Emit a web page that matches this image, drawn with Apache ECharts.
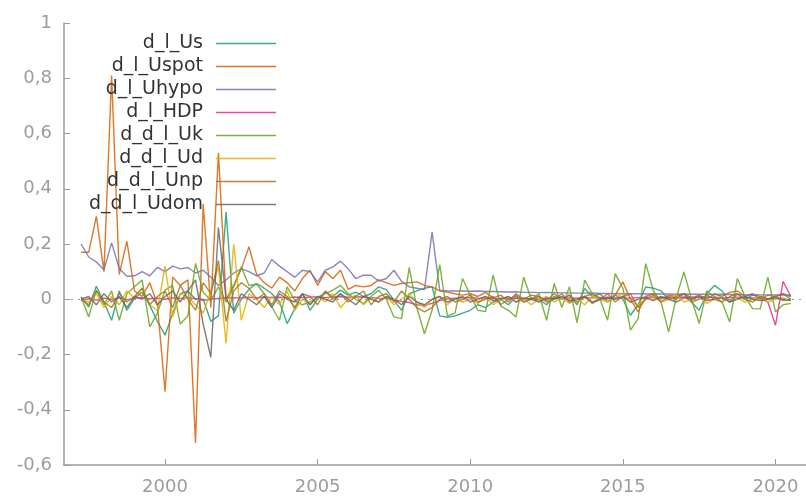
<!DOCTYPE html>
<html>
<head>
<meta charset="utf-8">
<script src="https://cdn.jsdelivr.net/npm/echarts@6/dist/echarts.min.js"></script>
<style>
  html, body { margin: 0; padding: 0; background: #fff; }
  #main { width: 806px; height: 497px; }
</style>
</head>
<body>
<div id="main"></div>
<script>
// quarterly data, first observation 1997:2, last 2020:3
var firstPeriod = 1997.25;
var yearTicks = [2000, 2005, 2010, 2015, 2020];

var seriesNames = ['d_l_Us', 'd_l_Uspot', 'd_l_Uhypo', 'd_l_HDP', 'd_d_l_Uk', 'd_d_l_Ud', 'd_d_l_Unp', 'd_d_l_Udom'];

var d_l_Us = [
  0.008, -0.028, 0.047, -0.01, -0.076, 0.03, -0.04, 0.003, 0.026, -0.022,
  -0.08, -0.13, -0.052, 0.02, 0.03, 0.0, 0.0, -0.08, -0.06, 0.316,
  -0.05, 0.0, 0.036, 0.057, 0.04, 0.02, -0.01, -0.088, -0.035, 0.02,
  -0.04, 0.0, 0.026, 0.01, 0.033, 0.015, 0.026, 0.01, 0.02, 0.045,
  0.035, -0.003, -0.04, 0.02, 0.03, 0.04, 0.045, -0.06, -0.065, -0.06,
  -0.05, -0.04, -0.02, -0.03, -0.01, 0.0, -0.02, 0.01, -0.01, 0.005,
  0.0, -0.02, 0.01, 0.0, 0.015, -0.02, 0.039, 0.01, 0.02, -0.01,
  0.015, 0.0, -0.058, -0.02, 0.045, 0.04, 0.03, 0.0, 0.01, 0.02,
  -0.01, -0.04, 0.02, 0.05, 0.03, -0.01, 0.02, 0.0, 0.015, 0.01,
  0.0, 0.01, 0.02, 0.0
];
var d_l_Uspot = [
  0.17, 0.17, 0.30, 0.10, 0.81, 0.09, 0.21, 0.03, 0.01, 0.06,
  -0.02, -0.335, 0.08, 0.05, 0.07, -0.52, 0.345, -0.03, 0.53, 0.0,
  0.05, 0.11, 0.19, 0.09, 0.06, 0.04, 0.08, 0.06, 0.03, 0.075,
  0.105, 0.05, 0.10, 0.075, 0.105, 0.036, 0.05, 0.045, 0.05, 0.07,
  0.06, 0.05, 0.057, 0.06, 0.063, 0.05, 0.045, 0.03, 0.026, 0.02,
  0.015, 0.02, 0.01, 0.025, 0.005, 0.015, -0.01, 0.02, 0.0, 0.015,
  0.01, -0.005, 0.02, 0.0, 0.015, -0.01, 0.01, 0.02, 0.005, 0.0,
  0.015, 0.063, 0.0, -0.046, 0.01, 0.02, 0.0, 0.015, 0.01, 0.02,
  0.005, 0.015, 0.0, 0.02, 0.01, 0.025, 0.03, 0.01, 0.02, 0.0,
  0.015, 0.01, 0.02, 0.01
];
var d_l_Uhypo = [
  0.20, 0.153, 0.135, 0.107, 0.204, 0.111, 0.083, 0.085, 0.10, 0.085,
  0.115, 0.10, 0.12, 0.11, 0.115, 0.095, 0.105, 0.08, 0.05, 0.07,
  0.095, 0.11, 0.10, 0.085, 0.095, 0.144, 0.12, 0.10, 0.08, 0.105,
  0.10, 0.063, 0.105, 0.117, 0.138, 0.11, 0.075, 0.087, 0.087, 0.066,
  0.075, 0.105, 0.065, 0.045, 0.04, 0.035, 0.243, 0.033, 0.03, 0.03,
  0.03, 0.029, 0.03, 0.028, 0.028, 0.027, 0.026, 0.027, 0.025, 0.025,
  0.024, 0.025, 0.024, 0.023, 0.023, 0.022, 0.022, 0.023, 0.021, 0.021,
  0.02, 0.021, 0.02, 0.02, 0.019, 0.02, 0.019, 0.019, 0.018, 0.019,
  0.018, 0.018, 0.018, 0.017, 0.018, 0.017, 0.017, 0.016, 0.017, 0.016,
  0.016, 0.016, 0.015, 0.015
];
var d_l_HDP = [
  -0.005, 0.002, -0.003, 0.004, 0.0, 0.005, -0.002, 0.003, 0.006, 0.002,
  0.004, 0.0, 0.005, 0.003, 0.006, 0.002, -0.004, 0.0, 0.003, 0.005,
  0.006, 0.004, 0.007, 0.005, 0.008, 0.006, 0.007, 0.005, 0.008, 0.006,
  0.007, 0.009, 0.006, 0.008, 0.01, 0.007, 0.009, 0.008, 0.006, 0.004,
  0.003, -0.002, -0.008, -0.012, -0.02, -0.022, -0.015, -0.005, 0.002, 0.004,
  0.005, 0.006, 0.004, 0.003, 0.002, 0.004, 0.001, 0.003, 0.002, 0.0,
  -0.002, 0.001, 0.003, 0.004, 0.005, 0.004, 0.006, 0.005, 0.006, 0.007,
  0.006, 0.005, 0.004, 0.006, 0.007, 0.005, 0.006, 0.007, 0.006, 0.008,
  0.007, 0.006, 0.008, 0.007, 0.006, 0.005, 0.007, 0.006, 0.005, 0.004,
  -0.01, -0.094, 0.065, 0.01
];
var d_d_l_Uk = [
  0.008, -0.064, 0.033, -0.02, 0.03, -0.076, 0.02, 0.045, 0.07, -0.1,
  -0.05, 0.033, 0.05, -0.09, -0.06, 0.13, 0.026, -0.005, 0.045, -0.01,
  0.045, 0.117, 0.05, 0.055, 0.02, -0.028, -0.076, 0.045, -0.004, -0.02,
  -0.01, 0.008, 0.02, 0.033, 0.05, 0.02, 0.0, -0.016, 0.01, 0.033,
  0.0, -0.064, -0.07, 0.115, -0.03, -0.125, -0.04, 0.125, -0.06, -0.05,
  0.075, 0.015, -0.04, -0.045, 0.087, -0.025, -0.04, -0.064, 0.08, 0.0,
  0.02, -0.076, 0.057, -0.03, 0.045, -0.085, 0.069, 0.02, 0.0, -0.076,
  0.093, 0.04, -0.112, -0.07, 0.129, 0.03, -0.01, -0.118, 0.005, 0.099,
  0.0, -0.088, 0.03, 0.01, -0.01, -0.082, 0.075, 0.01, -0.034, -0.035,
  0.08, -0.046, -0.02, -0.015
];
var d_d_l_Ud = [
  0.0, -0.01, 0.02, -0.03, 0.01, -0.02, 0.03, 0.005, 0.04, -0.02,
  -0.04, 0.12, -0.064, 0.02, 0.008, -0.02, -0.05, 0.03, 0.117, -0.16,
  0.20, -0.076, 0.02, 0.0, -0.03, 0.01, -0.02, 0.03, -0.04, 0.0,
  -0.02, 0.01, -0.01, 0.02, -0.03, 0.0, 0.015, -0.02, 0.005, -0.01,
  0.01, -0.02, 0.0, 0.02, -0.01, -0.03, 0.0, 0.01, -0.02, 0.005,
  -0.01, 0.0, -0.015, 0.01, -0.02, 0.0, 0.01, -0.01, 0.0, -0.02,
  0.0, 0.01, -0.01, 0.005, -0.015, 0.0, -0.02, 0.01, 0.0, -0.01,
  0.005, 0.02, -0.01, -0.02, 0.0, 0.01, -0.01, 0.0, 0.015, -0.01,
  0.0, 0.01, -0.015, 0.0, 0.01, -0.01, 0.005, -0.01, 0.0, 0.01,
  -0.01, 0.0, 0.005, -0.005
];
var d_d_l_Unp = [
  0.0, -0.02, 0.03, -0.01, -0.03, 0.02, -0.01, 0.01, 0.04, -0.02,
  0.01, 0.03, -0.03, 0.05, 0.0, -0.04, 0.06, 0.02, 0.14, -0.08,
  0.03, 0.06, 0.04, 0.0, 0.02, -0.02, 0.03, 0.01, -0.03, 0.02,
  0.01, -0.02, 0.03, 0.0, 0.02, -0.01, 0.01, 0.03, -0.02, 0.01,
  0.02, -0.01, 0.03, 0.0, -0.03, -0.046, -0.03, 0.0, 0.01, -0.01,
  0.0, 0.015, -0.01, 0.0, 0.01, -0.02, 0.0, 0.015, -0.01, 0.0,
  0.01, -0.01, 0.0, 0.02, -0.01, 0.0, 0.01, -0.015, 0.0, 0.02,
  -0.01, 0.01, 0.02, -0.03, 0.0, 0.015, -0.01, 0.01, 0.0, 0.02,
  -0.01, 0.0, 0.015, 0.0, -0.01, 0.01, 0.02, 0.0, -0.01, 0.01,
  0.0, 0.01, -0.005, 0.0
];
var d_d_l_Udom = [
  0.0, 0.01, -0.02, 0.02, -0.01, 0.01, -0.03, 0.01, 0.0, 0.02,
  -0.02, 0.01, 0.03, -0.01, 0.03, 0.07, -0.09, -0.21, 0.26, 0.0,
  -0.04, 0.02, 0.0, -0.02, 0.01, -0.03, 0.02, 0.0, -0.01, 0.02,
  -0.02, 0.01, 0.0, -0.01, 0.02, 0.0, -0.02, 0.01, 0.0, -0.01,
  0.01, 0.0, -0.02, 0.01, -0.01, -0.02, 0.0, 0.01, -0.01, 0.0,
  0.01, -0.01, 0.0, 0.01, -0.005, 0.0, 0.01, -0.01, 0.005, 0.0,
  -0.01, 0.005, 0.0, 0.01, -0.005, 0.0, 0.01, -0.01, 0.0, 0.005,
  0.0, 0.01, -0.01, 0.0, 0.005, -0.005, 0.01, 0.0, -0.01, 0.005,
  0.0, 0.01, -0.005, 0.0, 0.005, -0.01, 0.0, 0.01, 0.0, -0.005,
  0.0, 0.005, 0.0, -0.005
];

var allValues = [d_l_Us, d_l_Uspot, d_l_Uhypo, d_l_HDP, d_d_l_Uk, d_d_l_Ud, d_d_l_Unp, d_d_l_Udom];
var lineColors = ['#1b9e77', '#d95f02', '#7570b3', '#e7298a', '#66a61e', '#e6ab02', '#a6761d', '#666666'];

var myChart = echarts.init(document.getElementById('main'));

var series = [];
for (let i = 0; i < seriesNames.length; i++) {
  let obj = {
    name: seriesNames[i],
    type: 'line',
    symbol: 'none',
    animation: false,
    color: lineColors[i],
    lineStyle: { width: 1.4, opacity: 0.85 },
    data: allValues[i].map(function (v, k) { return [firstPeriod + k * 0.25, v]; })
  };
  if (i === 0) {
    // dotted zero line
    obj.markLine = {
      silent: true,
      symbol: 'none',
      label: { show: false },
      lineStyle: { color: '#999', type: [2, 5], width: 1 },
      data: [{ yAxis: 0 }]
    };
  }
  series.push(obj);
}

var axisGray = '#9c9c9c';

var option = {
  animation: false,
  grid: { left: 64, right: 0, top: 23, bottom: 32 },
  legend: {
    orient: 'vertical',
    right: 530,
    top: 32,
    padding: 0,
    align: 'right',
    icon: 'rect',
    itemWidth: 60,
    itemHeight: 1.5,
    itemGap: 0,
    itemStyle: { opacity: 0.85 },
    textStyle: {
      fontFamily: 'DejaVu Sans',
      fontSize: 19,
      lineHeight: 23,
      color: '#333',
      padding: [0, 8, 0, 0]
    },
    data: seriesNames
  },
  xAxis: {
    type: 'value',
    min: 1996.69,
    max: 2021.0,
    splitLine: { show: false },
    axisLine: { onZero: false, lineStyle: { color: axisGray, width: 1.5 } },
    axisTick: { inside: true, length: 6, customValues: yearTicks, lineStyle: { color: axisGray } },
    axisLabel: {
      customValues: yearTicks,
      margin: 13,
      color: axisGray,
      fontFamily: 'DejaVu Sans',
      fontSize: 18,
      formatter: function (v) { return String(v); }
    }
  },
  yAxis: {
    type: 'value',
    min: -0.6,
    max: 1,
    interval: 0.2,
    splitLine: { show: false },
    axisLine: { show: true, lineStyle: { color: axisGray, width: 1.5 } },
    axisTick: { show: true, inside: true, length: 6, lineStyle: { color: axisGray } },
    axisLabel: {
      margin: 12,
      color: axisGray,
      fontFamily: 'DejaVu Sans',
      fontSize: 18,
      formatter: function (v) {
        var r = Math.round(v * 10) / 10;
        return Number.isInteger(r) ? String(r) : r.toFixed(1).replace('.', ',');
      }
    }
  },
  series: series
};

myChart.setOption(option);
</script>
</body>
</html>
